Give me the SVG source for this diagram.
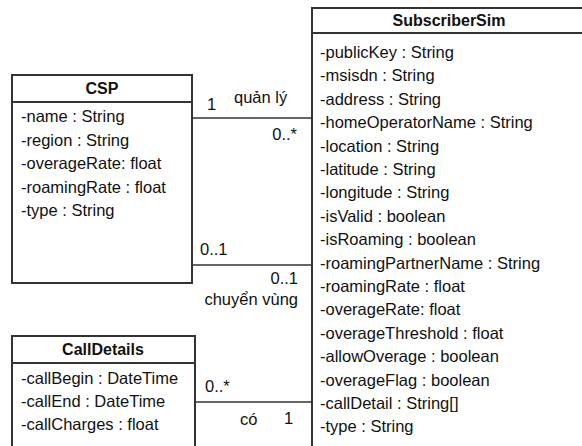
<svg xmlns="http://www.w3.org/2000/svg" width="582" height="446" viewBox="0 0 582 446">
  <style>
    .box { fill: #ffffff; stroke: #333333; stroke-width: 2; }
    .div { stroke: #333333; stroke-width: 2; }
    .title { font-family: "Liberation Sans", Arial, sans-serif; font-size: 16px; font-weight: bold; fill: #111111; text-anchor: middle; }
    .attr { font-family: "Liberation Sans", Arial, sans-serif; font-size: 16.5px; fill: #111111; }
    .lbl { font-family: "Liberation Sans", Arial, sans-serif; font-size: 16.5px; fill: #111111; }
    .end { text-anchor: end; }
    .edge { stroke: #333333; stroke-width: 1.3; fill: none; }
  </style>
  <rect width="582" height="446" fill="#ffffff"/>

  <!-- associations -->
  <g id="connectors">
    <line class="edge" x1="192" y1="118" x2="312" y2="118"/>
    <line class="edge" x1="192" y1="265" x2="312" y2="265"/>
    <line class="edge" x1="195" y1="402" x2="312" y2="402"/>
    <text class="lbl" x="207" y="110">1</text>
    <text class="lbl" x="234" y="103">quản lý</text>
    <text class="lbl end" x="297" y="140">0..*</text>
    <text class="lbl" x="200" y="255">0..1</text>
    <text class="lbl end" x="298" y="284">0..1</text>
    <text class="lbl end" x="298" y="305">chuyển vùng</text>
    <text class="lbl" x="205" y="392">0..*</text>
    <text class="lbl" x="240" y="425">có</text>
    <text class="lbl" x="284" y="424">1</text>
  </g>

  <!-- CSP class -->
  <g id="csp">
    <rect class="box" x="12" y="75" width="180" height="208"/>
    <line class="div" x1="12" y1="102" x2="192" y2="102"/>
    <text class="title" x="102" y="94">CSP</text>
    <text class="attr" x="21" y="122">-name : String</text>
    <text class="attr" x="21" y="145.5">-region : String</text>
    <text class="attr" x="21" y="169">-overageRate: float</text>
    <text class="attr" x="21" y="192.5">-roamingRate : float</text>
    <text class="attr" x="21" y="216">-type : String</text>
  </g>

  <!-- SubscriberSim class -->
  <g id="subscriber-sim">
    <rect class="box" x="312" y="8" width="290" height="460"/>
    <line class="div" x1="312" y1="33" x2="602" y2="33"/>
    <text class="title" x="449" y="26">SubscriberSim</text>
    <text class="attr" x="320" y="58">-publicKey : String</text>
    <text class="attr" x="320" y="81.4">-msisdn : String</text>
    <text class="attr" x="320" y="104.8">-address : String</text>
    <text class="attr" x="320" y="128.2">-homeOperatorName : String</text>
    <text class="attr" x="320" y="151.6">-location : String</text>
    <text class="attr" x="320" y="175">-latitude : String</text>
    <text class="attr" x="320" y="198.4">-longitude : String</text>
    <text class="attr" x="320" y="221.8">-isValid : boolean</text>
    <text class="attr" x="320" y="245.2">-isRoaming : boolean</text>
    <text class="attr" x="320" y="268.6">-roamingPartnerName : String</text>
    <text class="attr" x="320" y="292">-roamingRate : float</text>
    <text class="attr" x="320" y="315.4">-overageRate: float</text>
    <text class="attr" x="320" y="338.8">-overageThreshold : float</text>
    <text class="attr" x="320" y="362.2">-allowOverage : boolean</text>
    <text class="attr" x="320" y="385.6">-overageFlag : boolean</text>
    <text class="attr" x="320" y="409">-callDetail : String[]</text>
    <text class="attr" x="320" y="432.4">-type : String</text>
  </g>

  <!-- CallDetails class -->
  <g id="call-details">
    <rect class="box" x="12" y="336" width="183" height="130"/>
    <line class="div" x1="12" y1="363" x2="195" y2="363"/>
    <text class="title" x="103" y="355">CallDetails</text>
    <text class="attr" x="21" y="383.5">-callBegin : DateTime</text>
    <text class="attr" x="21" y="407">-callEnd : DateTime</text>
    <text class="attr" x="21" y="430">-callCharges : float</text>
  </g>
</svg>
